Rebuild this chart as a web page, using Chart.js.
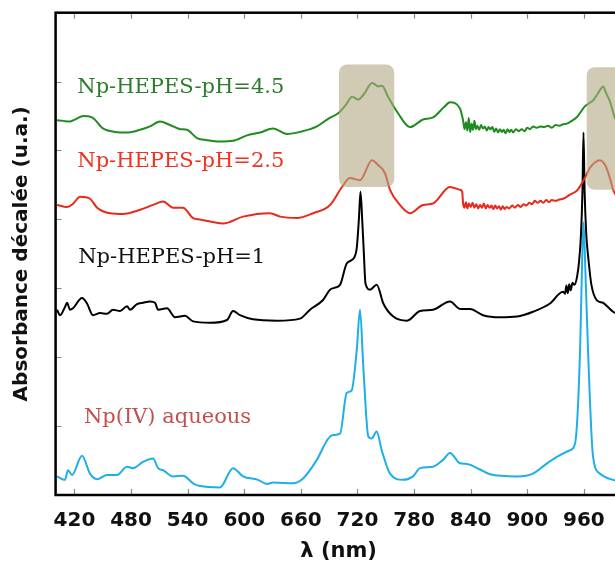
<!DOCTYPE html>
<html>
<head>
<meta charset="utf-8">
<script src="https://cdn.jsdelivr.net/npm/chart.js@4.4.1/dist/chart.umd.min.js"></script>
<style>
  html, body { margin: 0; padding: 0; background: #fff; overflow: hidden; }
  #wrap { width: 640px; height: 565px; }
</style>
</head>
<body>
<div id="wrap"><canvas id="spectra" width="640" height="565"></canvas></div>
<script>
// x ticks (nm) and y grid (offset units, labels hidden)
const xTicks = [420, 480, 540, 600, 660, 720, 780, 840, 900, 960];
const yTicks = [0, 1, 2, 3, 4, 5, 6, 7];

const seriesNames = ["Np-HEPES-pH=4.5", "Np-HEPES-pH=2.5", "Np-HEPES-pH=1", "Np(IV) aqueous"];

// [wavelength nm, shifted absorbance]
const hepes45 = [
  [401.5, 5.44], [408, 5.43], [415.3, 5.42], [422, 5.46], [429.1, 5.50], [438.6, 5.48], [450.2, 5.32], [463, 5.27],
  [475.7, 5.26], [489.5, 5.30], [500.1, 5.35], [510.7, 5.42], [521.3, 5.37], [531.9, 5.31],
  [539.3, 5.30], [549.9, 5.18], [560.5, 5.15], [574.3, 5.13], [588.1, 5.14], [602.9, 5.22],
  [616.7, 5.26], [630.5, 5.32], [645.3, 5.24], [659.1, 5.27], [677.1, 5.35], [690, 5.47],
  [699.6, 5.54], [707, 5.65], [714.5, 5.78], [720.9, 5.74], [727, 5.82], [735.4, 5.98],
  [738.6, 5.96], [741.8, 5.93], [746, 5.94], [752.4, 5.78], [763, 5.54], [775.7, 5.34],
  [789.5, 5.45], [800.1, 5.48], [811.8, 5.63], [818.1, 5.70], [828.7, 5.61], [831.9, 5.44],
  [833.5, 5.31], [835, 5.41], [836.5, 5.29], [838, 5.47], [839.5, 5.27], [841, 5.39], [842.5, 5.30],
  [844, 5.43], [845.5, 5.31], [847, 5.36], [849, 5.30], [851, 5.37], [853, 5.32], [855, 5.35],
  [857, 5.29], [859, 5.34], [861, 5.31], [863, 5.34], [865, 5.27], [867, 5.32], [869, 5.26],
  [871, 5.31], [873, 5.27], [875, 5.30], [877, 5.25], [879, 5.31], [881, 5.27], [883, 5.30],
  [885, 5.26], [888, 5.31], [891, 5.28], [894, 5.31], [897, 5.28], [900, 5.33], [903, 5.31],
  [906, 5.35], [910, 5.33], [914, 5.35], [918, 5.34], [922, 5.36], [926, 5.33], [930, 5.37],
  [934, 5.36], [938, 5.38], [942, 5.39], [947, 5.43], [953, 5.49], [961, 5.64], [966, 5.69],
  [970, 5.73], [975, 5.83], [980.5, 5.93], [983, 5.85], [987.7, 5.71], [993, 5.47], [1000, 5.35]
];

const hepes25 = [
  [401.5, 4.21], [412, 4.18], [418, 4.22], [426, 4.33], [436.5, 4.30], [444, 4.17],
  [457.7, 4.09], [471.5, 4.08], [489.5, 4.14], [503.3, 4.21], [513.9, 4.26], [524.5, 4.17],
  [535, 4.17], [545.7, 4.02], [553, 4.00], [577.5, 3.94], [598.7, 4.04], [627.3, 4.09],
  [638, 4.04], [656, 4.02], [673, 4.09], [691, 4.21], [703.6, 4.47], [712.1, 4.60],
  [722.7, 4.57], [735.4, 4.86], [741.8, 4.79], [749.2, 4.67], [754.5, 4.43], [765, 4.21],
  [775.7, 4.09], [789.5, 4.21], [800, 4.23], [818, 4.47], [828.7, 4.43], [831, 4.40],
  [832, 4.23], [833.5, 4.17], [835, 4.25], [836.5, 4.16], [838, 4.23], [840, 4.18], [842, 4.24],
  [844, 4.17], [846, 4.22], [848, 4.16], [850, 4.21], [852, 4.17], [854, 4.23], [856, 4.16],
  [858, 4.21], [860, 4.17], [862, 4.20], [864, 4.15], [866, 4.20], [868, 4.16], [870, 4.19],
  [872, 4.14], [874, 4.19], [876, 4.15], [878, 4.18], [881, 4.16], [884, 4.20], [887, 4.17],
  [890, 4.21], [893, 4.18], [896, 4.22], [899, 4.20], [902, 4.24], [905, 4.22], [908, 4.27],
  [911, 4.24], [914, 4.27], [917, 4.24], [920, 4.28], [923, 4.25], [926, 4.28], [930, 4.27],
  [934, 4.29], [938, 4.30], [945.4, 4.36], [952.8, 4.42], [956, 4.48], [961, 4.60],
  [966.5, 4.75], [972, 4.83], [977, 4.86], [981, 4.82], [984.2, 4.74], [988, 4.58],
  [991, 4.43], [995, 4.33], [1000, 4.25]
];

const hepes1 = [
  [401.5, 2.69], [404.7, 2.61], [410, 2.73], [412.1, 2.79], [415.3, 2.69], [418.4, 2.71],
  [428, 2.86], [433.3, 2.78], [439.6, 2.61], [447.1, 2.64], [454.5, 2.63], [460.9, 2.69],
  [468.3, 2.67], [475.7, 2.74], [478.9, 2.69], [486.3, 2.77], [492.7, 2.79], [500.1, 2.81],
  [505.4, 2.79], [508.6, 2.69], [518.1, 2.71], [526.6, 2.58], [537.2, 2.60], [545.7, 2.52],
  [563.7, 2.50], [581.7, 2.54], [588.1, 2.67], [595.5, 2.61], [609.3, 2.55], [634.7, 2.53],
  [659.1, 2.56], [669.7, 2.69], [683.5, 2.83], [690.9, 2.98], [696.2, 3.01], [701.5, 3.05],
  [708.6, 3.36], [713.9, 3.41], [719, 3.56], [721.5, 4.0], [723.2, 4.40], [725, 4.0],
  [726.8, 3.5], [728.5, 3.07], [733.3, 2.98], [740.4, 3.05], [747.4, 2.78], [758, 2.59],
  [772.5, 2.53], [786.3, 2.67], [800.1, 2.69], [818.1, 2.81], [828.7, 2.70], [839.3, 2.70],
  [853.1, 2.61], [871.1, 2.58], [889.1, 2.59], [906.1, 2.66], [924.1, 2.78], [937.9, 2.95],
  [940, 2.92], [941.5, 3.04], [943, 2.93], [944.5, 3.06], [946, 2.97], [948, 3.08],
  [950, 3.05], [952.8, 3.17], [955, 3.4], [957, 3.8], [958.5, 4.4], [959.6, 5.26],
  [960.8, 4.4], [962.5, 3.8], [965, 3.4], [968, 3.05], [973.6, 2.83], [980.3, 2.79],
  [986, 2.72], [990.9, 2.66], [1000, 2.60]
];

const aqueous = [
  [401.5, 0.27], [410, 0.22], [413.1, 0.36], [417.4, 0.29], [428, 0.57], [436.5, 0.31],
  [443.9, 0.23], [454.5, 0.29], [465.1, 0.29], [475.7, 0.41], [482, 0.39], [492.7, 0.48],
  [503.3, 0.53], [508.6, 0.39], [513.9, 0.36], [524.5, 0.27], [535.1, 0.28], [545.7, 0.17],
  [553.1, 0.13], [574.3, 0.11], [588.1, 0.39], [598.7, 0.27], [614.6, 0.22], [624.1, 0.16],
  [630.5, 0.18], [651.7, 0.17], [662.3, 0.24], [676.9, 0.51], [689.1, 0.82], [694.4, 0.87],
  [701.5, 0.89], [708.6, 1.48], [713.9, 1.52], [719.2, 2.10], [722.7, 2.69], [726.2, 1.86],
  [731.5, 0.85], [735, 0.82], [740.4, 0.92], [745.7, 0.65], [754.5, 0.31], [768.3, 0.22],
  [778.9, 0.27], [786.3, 0.39], [800.1, 0.41], [810.7, 0.51], [818.1, 0.61], [828.7, 0.46],
  [836.1, 0.45], [849.9, 0.37], [860.5, 0.30], [889.1, 0.27], [906.1, 0.31], [920.9, 0.46],
  [934.7, 0.58], [945.4, 0.65], [950.7, 0.75], [956, 2.10], [958, 3.3], [959.6, 3.96],
  [961.5, 3.3], [964.4, 2.10], [969.7, 0.56], [977.2, 0.31], [990.9, 0.22], [1000, 0.20]
];

// highlighted bands: [nm from, nm to, y from, y to]
const bands = [[700.4, 759, 4.47, 6.25], [963, 1012, 4.43, 6.21]];
// where each series name sits: [nm, y baseline]
const labelAnchors = [[423, 5.84], [423, 4.76], [424, 3.37], [430, 1.05]];

const lineColors = ["#1f8c1f", "#e8291c", "#000000", "#1eaee8"];
const labelColors = ["#2b7d2b", "#f0321e", "#111111", "#c0504d"];

const toPts = (arr) => arr.map((p) => ({ x: p[0], y: p[1] }));

const framePlugin = {
  id: "frameAndNotes",
  afterDatasetsDraw(chart) {
    const { ctx, chartArea: a, scales } = chart;
    const xs = scales.x, ys = scales.y;
    ctx.save();
    // tan bands over the peaks
    ctx.fillStyle = "rgba(178, 168, 132, 0.6)";
    bands.forEach((b) => {
      const x1 = xs.getPixelForValue(b[0]), x2 = xs.getPixelForValue(b[1]);
      const y1 = ys.getPixelForValue(b[3]), y2 = ys.getPixelForValue(b[2]);
      ctx.beginPath();
      ctx.roundRect(x1, y1, x2 - x1, y2 - y1, 8);
      ctx.fill();
    });
    // inward ticks
    ctx.strokeStyle = "#8a8a8a";
    ctx.lineWidth = 1.2;
    ctx.beginPath();
    xTicks.forEach((v) => {
      const px = Math.round(xs.getPixelForValue(v)) + 0.5;
      ctx.moveTo(px, a.bottom); ctx.lineTo(px, a.bottom - 6);
      ctx.moveTo(px, a.top); ctx.lineTo(px, a.top + 6);
    });
    yTicks.slice(1, -1).forEach((v) => {
      const py = Math.round(ys.getPixelForValue(v)) + 0.5;
      ctx.moveTo(a.left, py); ctx.lineTo(a.left + 6, py);
      ctx.moveTo(a.right, py); ctx.lineTo(a.right - 6, py);
    });
    ctx.stroke();
    // frame
    ctx.strokeStyle = "#000";
    ctx.lineWidth = 2.5;
    ctx.strokeRect(a.left, a.top, a.right - a.left, a.bottom - a.top);
    // series names
    ctx.font = "21px 'DejaVu Serif'";
    ctx.textBaseline = "alphabetic";
    ctx.textAlign = "left";
    seriesNames.forEach((name, i) => {
      ctx.fillStyle = labelColors[i];
      ctx.fillText(name, xs.getPixelForValue(labelAnchors[i][0]), ys.getPixelForValue(labelAnchors[i][1]));
    });
    ctx.restore();
  },
};

const ctx = document.getElementById("spectra").getContext("2d");
const axisFont = { family: "'DejaVu Sans', sans-serif", weight: "bold", size: 20 };

new Chart(ctx, {
  type: "line",
  data: {
    datasets: [hepes45, hepes25, hepes1, aqueous].map((s, i) => ({
      label: seriesNames[i],
      data: toPts(s),
      borderColor: lineColors[i],
      borderWidth: 2,
      borderJoinStyle: "round",
      pointRadius: 0,
      cubicInterpolationMode: "monotone",
      fill: false,
    })),
  },
  options: {
    responsive: false,
    animation: false,
    events: [],
    layout: { padding: { top: 12.7, right: 18.4, left: 0, bottom: 0 } },
    plugins: { legend: { display: false }, tooltip: { enabled: false } },
    scales: {
      x: {
        type: "linear",
        min: 400,
        max: 1000,
        afterBuildTicks: (s) => { s.ticks = xTicks.map((v) => ({ value: v })); },
        afterFit: (s) => { s.height = 70; },
        grid: { display: false, drawTicks: false },
        border: { display: false },
        ticks: { font: axisFont, color: "#111", padding: 14, maxRotation: 0, autoSkip: false },
        title: { display: true, text: "λ (nm)", color: "#111", font: { ...axisFont, size: 21 }, padding: { top: 0, bottom: 1 } },
      },
      y: {
        type: "linear",
        min: 0,
        max: 7,
        afterBuildTicks: (s) => { s.ticks = yTicks.map((v) => ({ value: v })); },
        afterFit: (s) => { s.width = 55.6; },
        grid: { display: false, drawTicks: false },
        border: { display: false },
        ticks: { display: false },
        title: { display: true, text: "Absorbance décalée (u.a.)", color: "#111", font: axisFont, padding: { top: 10, bottom: 0 } },
      },
    },
  },
  plugins: [framePlugin],
});
</script>
</body>
</html>
